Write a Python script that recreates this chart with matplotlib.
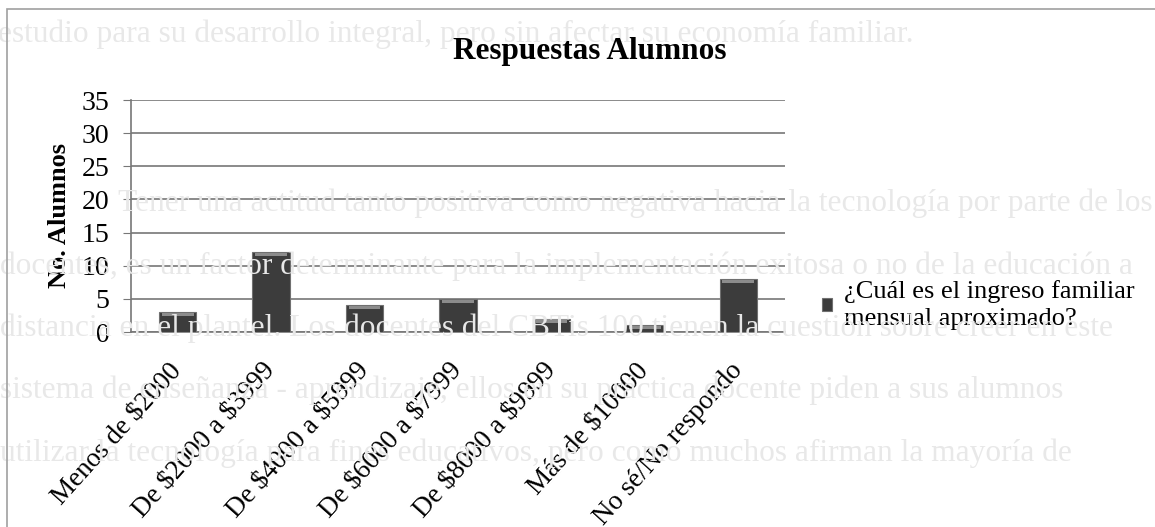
import matplotlib.pyplot as plt
from matplotlib.patches import Rectangle

# Datos
categorias = ["Menos de \\$2000", "De \\$2000 a \\$3999", "De \\$4000 a \\$5999", "De \\$6000 a \\$7999",
              "De \\$8000 a \\$9999", "Más de \\$10000", "No sé/No respondo"]
alumnos = [3, 12, 4, 5, 2, 1, 8]
serie = "¿Cuál es el ingreso familiar\nmensual aproximado?"
titulo = "Respuestas Alumnos"
eje_y = "No. Alumnos"

# texto del documento que se transparenta
fondo = [
    "estudio para su desarrollo integral, pero sin afectar su economía familiar.",
    "Tener una actitud tanto positiva como negativa hacia la tecnología por parte de los",
    "docentes, es un factor determinante para la implementación exitosa o no de la educación a",
    "distancia en el plantel. Los docentes del CBTis 100 tienen la cuestión sobre creer en este",
    "sistema de enseñanza - aprendizaje, ellos en su práctica docente piden a sus alumnos",
    "utilizar la tecnología para fines educativos, pero como muchos afirman la mayoría de",
]

plt.rcParams['font.family'] = ['Liberation Serif', 'DejaVu Serif']

fig = plt.figure(figsize=(11.55, 5.27), dpi=100)
fig.patch.set_facecolor('white')

# texto de fondo
ys = [34, 203, 266, 328, 390, 453]
xs = [-2, 118, 0, 0, 0, 0]
for t, x, y in zip(fondo, xs, ys):
    fig.text(x / 1155, 1 - y / 527, t, fontsize=22.6, color='#e8e8e8', va='center', ha='left', zorder=0)

# marco del gráfico
fig.patches.append(Rectangle((7 / 1155, -0.1), 1.2, 1.1 - 9 / 527, transform=fig.transFigure,
                             fill=False, edgecolor='#a0a0a0', linewidth=1.2, zorder=1))

ax = fig.add_axes([131 / 1155, 1 - 332 / 527, 654 / 1155, 232 / 527])
ax.patch.set_alpha(0)

x = range(len(categorias))
ax.bar(x, alumnos, width=0.4, color='#3c3c3c', edgecolor='#707070', linewidth=0.8, zorder=3, label=serie)
# brillo superior (bisel)
ax.bar(x, [0.5] * len(alumnos), bottom=[v - 0.6 for v in alumnos], width=0.34,
       color='#8c8c8c', linewidth=0, zorder=4)

ax.set_ylim(0, 35)
ax.set_xlim(-0.5, len(categorias) - 0.5)
ax.set_yticks(range(0, 36, 5))
ax.yaxis.grid(True, color='#777777', linewidth=1.2, zorder=0)
ax.set_axisbelow(True)
for s in ['top', 'right']:
    ax.spines[s].set_visible(False)
ax.spines['left'].set_color('#777777')
ax.spines['bottom'].set_color('#777777')
ax.spines['left'].set_linewidth(1.2)
ax.spines['bottom'].set_linewidth(1.2)
ax.tick_params(axis='y', labelsize=20, length=5.5, color='#777777', pad=10)
ax.tick_params(axis='x', length=0, pad=25)
ax.set_xticks(list(x))
ax.set_xticklabels(categorias, rotation=48, ha='right', va='center', rotation_mode='anchor', fontsize=19.5)

ax.set_ylabel(eje_y, fontsize=19, fontweight='bold', labelpad=8)
fig.text(590 / 1155, 1 - 52 / 527, titulo, fontsize=22.5, fontweight='bold', ha='center', va='center')

leg = ax.legend(loc='center left', bbox_to_anchor=(1.02, 0.115), frameon=False, fontsize=19,
                handlelength=0.4, handleheight=0.4, handletextpad=0.45)
for t in leg.get_texts():
    t.set_linespacing(1.3)

plt.savefig('out.png', dpi=100)
